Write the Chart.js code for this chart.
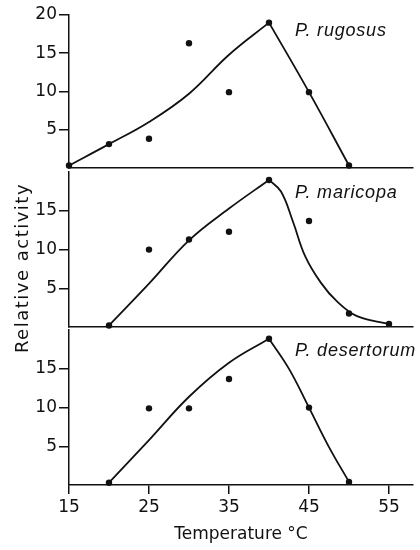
<!DOCTYPE html>
<html>
<head>
<meta charset="utf-8">
<script src="https://cdn.jsdelivr.net/npm/chart.js@4.4.1/dist/chart.umd.min.js"></script>
<style>
html,body{margin:0;padding:0;background:#fff;}
#wrap{position:relative;width:420px;height:550px;overflow:hidden;background:#fff;}
.pane{position:absolute;left:0;width:420px;}
.pane canvas{display:block;}
#ylab{position:absolute;left:-78px;top:256px;width:200px;height:24px;line-height:24px;text-align:center;
  transform:rotate(-90deg);font-family:"DejaVu Sans",sans-serif;font-size:18px;letter-spacing:1.5px;color:#111;}
</style>
</head>
<body>
<div id="wrap">
  <div class="pane" style="top:0;height:180px"><canvas id="c1" width="420" height="180"></canvas></div>
  <div class="pane" style="top:160px;height:180px"><canvas id="c2" width="420" height="180"></canvas></div>
  <div class="pane" style="top:318px;height:232px"><canvas id="c3" width="420" height="232"></canvas></div>
  <div id="ylab">Relative activity</div>
</div>
<script>
// ---- tick labels ----
const xTicks = [15, 25, 35, 45, 55];
const yTicksTop = [5, 10, 15, 20];
const yTicksLower = [5, 10, 15];

// ---- P. rugosus ----
const rugosusT = [15, 20, 25, 30, 35, 40, 45, 50];
const rugosusV = [0.3, 3.1, 3.8, 16.3, 9.9, 19.0, 9.9, 0.3];
const rugosusRiseT = [15, 20, 25, 30, 35, 40];
const rugosusRiseV = [0.3, 3.1, 6.0, 9.7, 14.8, 19.0];
const rugosusFallT = [40, 45, 50];
const rugosusFallV = [19.0, 9.9, 0.3];

// ---- P. maricopa ----
const maricopaT = [20, 25, 30, 35, 40, 45, 50, 55];
const maricopaV = [0.2, 10.0, 11.3, 12.3, 19.0, 13.7, 1.75, 0.4];
const maricopaRiseT = [20, 25, 30, 35, 40];
const maricopaRiseV = [0.2, 5.6, 11.2, 15.3, 19.0];
const maricopaFallT = [40, 41.5, 43, 44.5, 46.5, 48.5, 51, 55];
const maricopaFallV = [19.0, 17.5, 13.6, 9.2, 5.7, 3.3, 1.4, 0.4];

// ---- P. desertorum ----
const desertorumT = [20, 25, 30, 35, 40, 45, 50];
const desertorumV = [0.3, 9.9, 9.9, 13.7, 18.9, 10.0, 0.4];
const desertorumRiseT = [20, 25, 30, 35, 40];
const desertorumRiseV = [0.3, 5.8, 11.4, 15.8, 18.9];
const desertorumFallT = [40, 42.5, 45, 47.5, 50];
const desertorumFallV = [18.9, 15.0, 10.0, 4.9, 0.4];

const INK = '#111';
const FONT = 'DejaVu Sans';

const zip = (xs, ys) => xs.map((x, i) => ({x: x, y: ys[i]}));

function curve(xs, ys) {
  return {
    data: zip(xs, ys), showLine: true, pointRadius: 0, borderColor: INK,
    borderWidth: 1.8, tension: 0.4, clip: false, fill: false
  };
}
function dots(xs, ys) {
  return {
    data: zip(xs, ys), showLine: false, pointRadius: 3.2, pointBackgroundColor: INK,
    pointBorderColor: INK, pointBorderWidth: 0, clip: false
  };
}

const speciesPlugin = {
  id: 'species',
  afterDatasetsDraw(chart, args, opts) {
    const {ctx, chartArea} = chart;
    ctx.save();
    ctx.font = 'italic 18px "Liberation Sans"';
    ctx.letterSpacing = '0.8px';
    ctx.fillStyle = INK;
    ctx.textBaseline = 'alphabetic';
    ctx.textAlign = 'left';
    ctx.fillText(opts.text, chartArea.left + opts.dx, chartArea.top + opts.dy);
    ctx.restore();
  }
};

function makeChart(id, datasets, yTicks, showX, pad, label, labelDy) {
  return new Chart(document.getElementById(id), {
    type: 'scatter',
    data: {datasets: datasets},
    plugins: [speciesPlugin],
    options: {
      responsive: false, animation: false, events: [],
      layout: {padding: pad},
      plugins: {
        legend: {display: false}, tooltip: {enabled: false},
        species: {text: label, dx: 226, dy: labelDy}
      },
      scales: {
        x: {
          type: 'linear', min: 15, max: 58,
          afterBuildTicks: s => { s.ticks = xTicks.map(v => ({value: v})); },
          afterFit: s => { s.height = showX ? 65 : 0; },
          grid: {display: showX, drawOnChartArea: false, drawTicks: showX, tickLength: 9, color: INK, lineWidth: 1.5},
          border: {display: true, color: INK, width: 1.5},
          ticks: {display: showX, padding: 3, color: INK, font: {family: FONT, size: 17}},
          title: {display: showX, text: 'Temperature °C', color: INK,
                  font: {family: FONT, size: 17}, padding: {top: 0, bottom: 5}}
        },
        y: {
          type: 'linear', min: 0, max: 20,
          afterBuildTicks: s => { s.ticks = yTicks.map(v => ({value: v})); },
          afterFit: s => { s.width = 69; },
          grid: {drawOnChartArea: false, drawTicks: true, tickLength: 10, color: INK, lineWidth: 1.5},
          border: {display: true, color: INK, width: 1.5},
          ticks: {padding: 2, color: INK, font: {family: FONT, size: 17}}
        }
      }
    }
  });
}

makeChart('c1', [
  curve(rugosusRiseT, rugosusRiseV), curve(rugosusFallT, rugosusFallV), dots(rugosusT, rugosusV)
], yTicksTop, false, {top: 15, bottom: 9, left: 0, right: 7}, 'P. rugosus', 21);

makeChart('c2', [
  curve(maricopaRiseT, maricopaRiseV), curve(maricopaFallT, maricopaFallV), dots(maricopaT, maricopaV)
], yTicksLower, false, {top: 11, bottom: 13, left: 0, right: 7}, 'P. maricopa', 26);

makeChart('c3', [
  curve(desertorumRiseT, desertorumRiseV), curve(desertorumFallT, desertorumFallV), dots(desertorumT, desertorumV)
], yTicksLower, true, {top: 11, bottom: 0, left: 0, right: 7}, 'P. desertorum', 26);
</script>
</body>
</html>
